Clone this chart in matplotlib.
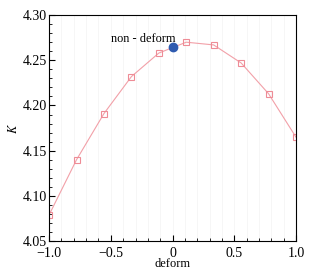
import matplotlib
matplotlib.use('Agg')
import matplotlib.pyplot as plt
from matplotlib.ticker import MultipleLocator, FixedLocator, FixedFormatter

plt.rcParams['font.family'] = ['Liberation Serif', 'DejaVu Serif']
plt.rcParams['mathtext.fontset'] = 'stix'

deform = [-1.0, -0.778, -0.556, -0.333, -0.111, 0.111, 0.333, 0.556, 0.778, 1.0]
k_values = [4.079, 4.140, 4.191, 4.232, 4.258, 4.270, 4.267, 4.247, 4.213, 4.165]
non_deform_x = [0.0]
non_deform_k = [4.265]
x_ticks = [-1.0, -0.5, 0, 0.5, 1.0]
x_tick_labels = ['\u22121.0', '\u22120.5', '0', '0.5', '1.0']

fig = plt.figure(figsize=(3.21, 2.74), dpi=100)
ax = fig.add_axes([0.153, 0.120, 0.769, 0.825])

ax.plot(deform, k_values, color='#f2a0a8', linewidth=0.8, marker='s',
        markersize=5, markerfacecolor='none', markeredgecolor='#ee8c96',
        markeredgewidth=0.8)
ax.plot(non_deform_x, non_deform_k, 'o', color='#2f5bb0', markersize=6)
ax.text(0.02, 4.2705, 'non - deform', ha='right', va='baseline', fontsize=8.8)

ax.set_xlim(-1.0, 1.0)
ax.set_ylim(4.05, 4.30)
ax.xaxis.set_major_locator(FixedLocator(x_ticks))
ax.xaxis.set_major_formatter(FixedFormatter(x_tick_labels))
ax.xaxis.set_minor_locator(MultipleLocator(0.1))
ax.yaxis.set_major_locator(MultipleLocator(0.05))
ax.yaxis.set_minor_locator(MultipleLocator(0.01))
ax.yaxis.set_major_formatter(plt.FormatStrFormatter('%.2f'))
ax.tick_params(which='both', direction='in', labelsize=10)
ax.tick_params(axis='x', pad=4)
ax.tick_params(axis='y', pad=1.5)
ax.tick_params(which='major', length=4)
ax.tick_params(which='minor', length=2)
ax.grid(axis='x', which='both', color='#f3f3f3', linewidth=0.5)
ax.set_axisbelow(True)

ax.set_xlabel('deform', fontsize=9, labelpad=-1)
ax.set_ylabel('$K$', fontsize=9, labelpad=2)

fig.savefig('out.png', dpi=100)
